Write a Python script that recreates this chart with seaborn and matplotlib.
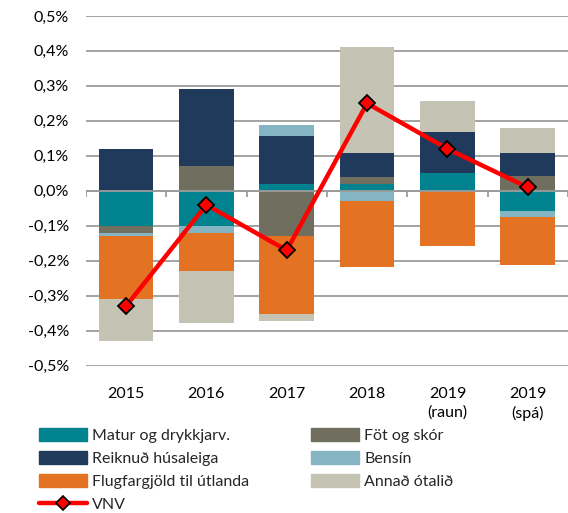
import numpy as np
import matplotlib
matplotlib.use("Agg")
import matplotlib.pyplot as plt
import seaborn as sns
from matplotlib.patches import Patch
from matplotlib.lines import Line2D

# gildi i prosentustigum, lesin af myndinni
ar = ["2015", "2016", "2017", "2018", "2019\n(raun)", "2019\n(spá)"]
matur = [-0.10, -0.10, 0.02, 0.02, 0.05, -0.057]
fot = [-0.02, 0.07, -0.13, 0.02, 0.0, 0.043]
reiknud = [0.12, 0.22, 0.138, 0.069, 0.117, 0.064]
bensin = [-0.01, -0.02, 0.031, -0.03, 0.0, -0.019]
flug = [-0.178, -0.108, -0.221, -0.189, -0.159, -0.135]
annad = [-0.121, -0.15, -0.02, 0.301, 0.091, 0.072]
vnv = [-0.33, -0.04, -0.17, 0.25, 0.12, 0.01]

nofn = ["Matur og drykkjarv.", "Föt og skór", "Reiknuð húsaleiga", "Bensín",
        "Flugfargjöld til útlanda", "Annað ótalið"]
litir = ["#00838F", "#706E5E", "#1F3A5A", "#85B5C3", "#E37222", "#C5C3B3"]
radir = [matur, fot, reiknud, bensin, flug, annad]

sns.set_style("white")
plt.rcParams["font.family"] = ["Lato", "DejaVu Sans"]
fs = 11.5

fig = plt.figure(figsize=(5.68, 5.13), dpi=100)
ax = fig.add_axes([0.151, 0.287, 0.849, 0.682])

pos = np.zeros(len(ar))
neg = np.zeros(len(ar))
for vals, col in zip(radir, litir):
    v = np.array(vals)
    botn = np.where(v >= 0, pos, neg)
    sns.barplot(x=list(range(len(ar))), y=v, bottom=botn, color=col, saturation=1,
                width=0.68, ax=ax, edgecolor="none", zorder=2)
    pos = pos + np.where(v >= 0, v, 0)
    neg = neg + np.where(v < 0, v, 0)

x = np.arange(len(ar))
ax.plot(x, vnv, color="#FF0000", lw=3.2, marker="D", ms=8, mfc="#FF0000",
        mec="black", mew=1.3, zorder=5)

yt = np.round(np.arange(-0.5, 0.51, 0.1), 1)
ax.set_ylim(-0.5, 0.5)
ax.set_xlim(-0.5, len(ar) - 0.5)
ax.set_yticks(yt)
ax.set_yticklabels([f"{abs(t) if t == 0 else t:.1f}%".replace(".", ",") for t in yt])
ax.set_xticks(x)
ax.set_xticklabels(ar)
for t in ax.get_xticklabels():
    t.set_linespacing(1.45)
ax.tick_params(axis="both", length=0, labelsize=fs, colors="black")
ax.tick_params(axis="x", pad=15)
ax.tick_params(axis="y", pad=12)
ax.set_xlabel("")
ax.set_ylabel("")

ax.yaxis.grid(True, color="#9C9C9C", lw=1.3)
ax.set_axisbelow(True)
ax.axhline(0, color="#9C9C9C", lw=1.3, zorder=3)
ax.vlines(np.arange(-0.5, len(ar), 1), -0.017, 0, color="#9C9C9C", lw=1.3, zorder=3)
for s in ax.spines.values():
    s.set_visible(False)

h = [Patch(color=litir[0]), Patch(color=litir[2]), Patch(color=litir[4]),
     Line2D([], [], color="#FF0000", lw=3.2, marker="D", ms=7, mfc="#FF0000", mec="black", mew=1.2),
     Patch(color=litir[1]), Patch(color=litir[3]), Patch(color=litir[5])]
lab = [nofn[0], nofn[2], nofn[4], "VNV", nofn[1], nofn[3], nofn[5]]
fig.legend(h, lab, ncol=2, loc="upper left", bbox_to_anchor=(0.068, 0.165),
           frameon=False, fontsize=fs, handlelength=3.0, handleheight=0.85,
           handletextpad=0.35, columnspacing=3.85, labelspacing=0.5, borderpad=0,
           borderaxespad=0)

fig.savefig("out.png", dpi=100)
